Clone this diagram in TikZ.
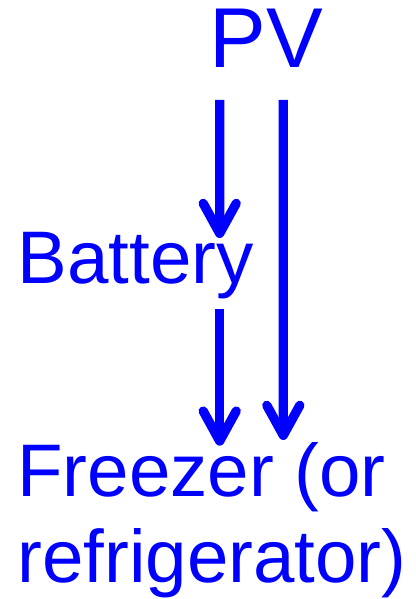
\documentclass[tikz,border=0pt]{standalone}
\usepackage{fontspec}
\setmainfont{Liberation Sans}
\usepackage{tikz}
\usetikzlibrary{arrows.meta, positioning, calc}
\definecolor{flowblue}{RGB}{0,0,255}

\begin{document}
\begin{tikzpicture}[x=1bp, y=-1bp,
    lbl/.style={text=flowblue, inner sep=0pt, outer sep=0pt, font=\fontsize{74.5bp}{86bp}\selectfont},
    flow/.style={draw=flowblue, line width=9.3bp, -{Straight Barb[length=30bp, width=33bp, round]},
      preaction={draw=black, opacity=0.15, transform canvas={shift={(1.5bp,-1.5bp)}}}}]
  \useasboundingbox (0,0) rectangle (415,599);

  % Labels
  \node[lbl, anchor=base west, font=\fontsize{85bp}{98bp}\selectfont] (pv) at (209.5,67.7) {PV};
  \node[lbl, anchor=base west] (battery) at (17.8,283.3) {Battery};
  \node[lbl, anchor=north west, align=left] (freezer) at (17.3,442.5) {Freezer (or\\refrigerator)};

  % Flows
  \draw[flow] ([xshift=10.2bp, yshift=-32.3bp]pv.south west) -- ([xshift=201.9bp, yshift=-6bp]battery.north west);
  \draw[flow] ([xshift=201.9bp, yshift=-10.4bp]battery.south west) -- ([xshift=202.4bp, yshift=-3.2bp]freezer.north west);
  \draw[flow] ([xshift=73.8bp, yshift=-32.3bp]pv.south west) -- ([xshift=266bp, yshift=2.5bp]freezer.north west);
\end{tikzpicture}
\end{document}
